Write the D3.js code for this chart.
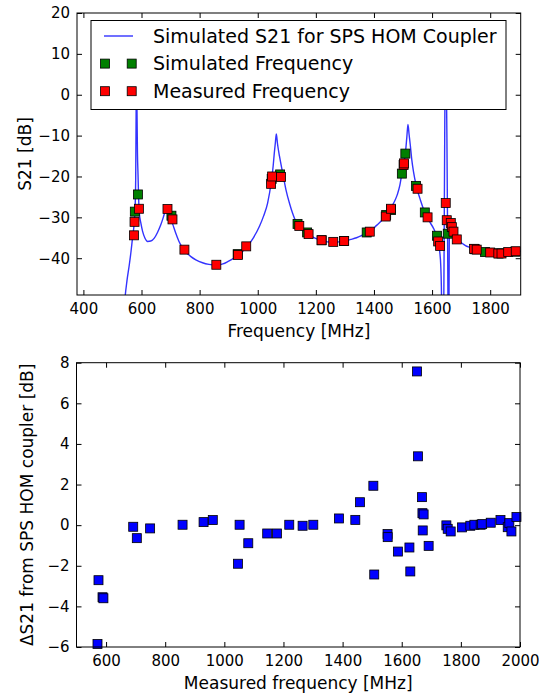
<!DOCTYPE html>
<html>
<head>
<meta charset="utf-8">
<script src="https://cdn.jsdelivr.net/npm/d3@7"></script>
<style>
  body { margin: 0; background: #fff; }
  text { font-family: "DejaVu Sans", sans-serif; fill: #000; }
</style>
</head>
<body>
<div id="chart"></div>
<script>
// simulated S21 curve
var curveFreq = [540, 544, 550, 558, 564, 569, 573, 576, 578.5, 580, 581.5, 583, 584.5, 586, 588, 590, 592, 598, 604, 612,
    621, 632, 644, 655, 666, 675, 681, 686, 690, 695, 707, 718, 729, 740, 752, 770, 787, 810, 832, 858,
    880, 900, 920, 937, 950, 966, 985, 1006, 1020, 1034, 1046, 1053, 1057, 1061, 1064, 1068, 1075, 1086, 1097, 1109,
    1120, 1134, 1143, 1158, 1175, 1197, 1220, 1240, 1260, 1280, 1297, 1320, 1340, 1362, 1385, 1410, 1425, 1442, 1459, 1470,
    1480, 1489, 1496, 1502, 1508, 1513, 1517, 1521, 1525, 1530, 1536, 1546, 1560, 1575, 1590, 1605, 1615, 1621, 1626, 1630,
    1632, 1634, 1637, 1640, 1642, 1643.5, 1645, 1647, 1649, 1651, 1653, 1655, 1656.5, 1658, 1659, 1660, 1664, 1670, 1680, 1690,
    1700, 1715, 1730, 1745, 1762, 1780, 1810, 1835, 1860, 1880, 1905];
var curveS21 = [-53, -49.2, -45.5, -41.6, -38.3, -35.1, -32.8, -30.2, -26.5, -20.5, -4, 12, -4, -14, -19.5, -25, -28.6, -31.5, -33.5, -35.1,
    -35.9, -35.8, -35.1, -33.7, -31.9, -30.0, -28.6, -27.6, -28.2, -29.4, -31.6, -33.9, -35.9, -37.3, -38.4, -39.6, -40.4, -41.1, -41.5, -41.7,
    -41.4, -40.7, -39.9, -39.1, -38.2, -36.9, -35.0, -32.2, -29.7, -26.5, -21.6, -17.5, -14.3, -11.5, -9.6, -12.0, -15.1, -19.2, -23.2, -26.5,
    -29.0, -31.4, -32.3, -33.4, -34.2, -35.1, -35.7, -36.0, -36.1, -36.0, -35.8, -35.4, -35.0, -34.3, -33.5, -31.9, -30.9, -29.4, -27.6, -26.2,
    -24.5, -22.2, -19.3, -17.0, -14.4, -10.5, -7.3, -9.8, -12.3, -15.8, -18.8, -22.4, -25.8, -28.8, -30.9, -32.7, -34.4, -35.9, -38.2, -42,
    -47, -58, -70, -55, -30, -10, 5, 10, 5, -10, -30, -55, -70, -55, -38, -30.8, -31.8, -33.4, -35, -35.7,
    -36.2, -36.9, -37.4, -37.9, -38.2, -38.5, -38.8, -38.9, -38.8, -38.5, -38.3];

// simulated mode frequencies (green)
var simFreq = [577, 587.6, 703, 931, 1048, 1077, 1137, 1170, 1220, 1297, 1375, 1442, 1459, 1496, 1508, 1545, 1575, 1617, 1654, 1748, 1782, 1830, 1886];
var simS21 = [-28.6, -24.4, -29.6, -39.0, -20.6, -19.5, -31.6, -33.7, -35.6, -35.8, -33.7, -29.4, -28.2, -19.3, -14.4, -22.3, -28.8, -34.5, -34.0, -37.8, -38.5, -38.8, -38.4];

// measured frequencies (red)
var measFreq = [574, 576, 591, 689.4, 706.6, 747.7, 857.5, 931.6, 960.4, 1046, 1049.5, 1080.4, 1143, 1175, 1219.7, 1259.8, 1297.5,
    1385.6, 1440.5, 1458.7, 1502, 1503, 1550, 1584.5, 1621, 1627.7, 1647, 1650.5, 1664.4, 1668, 1673.7, 1685,
    1744.4, 1753.6, 1800, 1828, 1839, 1862, 1888];
var measS21 = [-34.4, -31.1, -27.9, -27.95, -30.5, -37.9, -41.6, -39.2, -37.1, -21.8, -20.0, -20.15, -32.1, -34.1, -35.6, -36.0, -35.8,
    -33.5, -29.8, -27.9, -17.2, -16.8, -23.0, -30.0, -35.9, -37.0, -26.5, -30.7, -31.4, -32.4, -33.5, -35.4,
    -37.7, -37.9, -38.6, -38.85, -38.85, -38.5, -38.3];

// difference measured vs simulated (blue)
var deltaFreq = [571, 574.4, 588, 591, 691.8, 704, 749, 858.7, 929.8, 961, 1046, 1051.6, 1081, 1145, 1178, 1219.6, 1264.7, 1300.9,
    1387.6, 1443, 1458.8, 1504, 1507, 1552, 1552.5, 1587, 1626, 1629, 1651.6, 1655, 1668.5, 1670, 1674, 1671, 1691,
    1751, 1755.5, 1765.6, 1804, 1832, 1845.7, 1867, 1872, 1901, 1934, 1958.5, 1964, 1971, 1988];
var deltaS21 = [-5.85, -2.71, -3.55, -3.6, -0.08, -0.64, -0.16, 0.02, 0.15, 0.25, -1.9, 0.02, -0.89, -0.41, -0.41, 0.02, -0.03, 0.02,
    0.33, 0.26, 1.13, 1.94, -2.43, -0.44, -0.59, -1.3, -1.1, -2.28, 7.57, 3.39, 1.38, 0.59, 0.53, -0.26, -1.02,
    -0.01, -0.18, -0.31, -0.11, -0.03, 0.02, 0.02, 0.05, 0.12, 0.25, -0.1, 0.10, -0.31, 0.4];

var xTicksTop = [400, 600, 800, 1000, 1200, 1400, 1600, 1800];
var yTicksTop = [20, 10, 0, -10, -20, -30, -40];
var xTicksBot = [600, 800, 1000, 1200, 1400, 1600, 1800, 2000];
var yTicksBot = [8, 6, 4, 2, 0, -2, -4, -6];

var svg = d3.select("#chart").append("svg")
    .attr("width", 539)
    .attr("height", 695);

var tickFont = 15,
    labelFont = 17,
    legendFont = 19;

// draw ticks on all four sides, pointing inwards (matplotlib classic look)
function drawFrame(g, x, y, xTicks, yTicks) {
    var w = x.range()[1] - x.range()[0],
        h = y.range()[0] - y.range()[1];
    var fmt = d3.format("d");

    var bottom = g.append("g").attr("transform", "translate(0," + h + ")")
        .call(d3.axisBottom(x).tickValues(xTicks).tickSize(-5).tickSizeOuter(0).tickPadding(8).tickFormat(fmt));
    var upper = g.append("g")
        .call(d3.axisTop(x).tickValues(xTicks).tickSize(-5).tickSizeOuter(0).tickFormat(""));
    var left = g.append("g")
        .call(d3.axisLeft(y).tickValues(yTicks).tickSize(-5).tickSizeOuter(0).tickPadding(7).tickFormat(fmt));
    var right = g.append("g").attr("transform", "translate(" + w + ",0)")
        .call(d3.axisRight(y).tickValues(yTicks).tickSize(-5).tickSizeOuter(0).tickFormat(""));

    [bottom, upper, left, right].forEach(function(a) {
        a.select(".domain").remove();
        a.selectAll("line").attr("stroke", "#000");
        a.selectAll("text").style("font-size", tickFont + "px").attr("fill", "#000")
            .style("font-family", "'DejaVu Sans', sans-serif");
    });

    g.append("rect")
        .attr("width", w)
        .attr("height", h)
        .attr("fill", "none")
        .attr("stroke", "#000")
        .attr("stroke-width", 1);
}

function squares(g, xs, ys, x, y, color) {
    g.selectAll(null)
        .data(xs.map(function(f, i) { return [f, ys[i]]; }))
        .enter().append("rect")
        .attr("x", function(d) { return x(d[0]) - 4.5; })
        .attr("y", function(d) { return y(d[1]) - 4.5; })
        .attr("width", 9)
        .attr("height", 9)
        .attr("fill", color)
        .attr("stroke", "#000")
        .attr("stroke-width", 0.8);
}

// ---------- top chart ----------
var box1 = {left: 77, right: 520.7, top: 13, bottom: 295};
var x1 = d3.scaleLinear().domain([378, 1905]).range([0, box1.right - box1.left]);
var y1 = d3.scaleLinear().domain([-49, 20]).range([box1.bottom - box1.top, 0]);

var g1 = svg.append("g").attr("transform", "translate(" + box1.left + "," + box1.top + ")");

svg.append("clipPath").attr("id", "clipTop")
    .append("rect")
    .attr("width", box1.right - box1.left)
    .attr("height", box1.bottom - box1.top);

var plot1 = g1.append("g").attr("clip-path", "url(#clipTop)");

var line = d3.line()
    .curve(d3.curveMonotoneX)
    .x(function(d) { return x1(d[0]); })
    .y(function(d) { return y1(d[1]); });

plot1.append("path")
    .datum(curveFreq.map(function(f, i) { return [f, curveS21[i]]; }))
    .attr("d", line)
    .attr("fill", "none")
    .attr("stroke", "#3333ff")
    .attr("stroke-width", 1.4);

squares(plot1, simFreq, simS21, x1, y1, "#008000");
squares(plot1, measFreq, measS21, x1, y1, "#ff0000");

drawFrame(g1, x1, y1, xTicksTop, yTicksTop);

// legend
var leg = svg.append("g").attr("transform", "translate(91,20.5)");
leg.append("rect")
    .attr("width", 415)
    .attr("height", 89)
    .attr("fill", "#fff")
    .attr("stroke", "#000")
    .attr("stroke-width", 1);

var legItems = ["Simulated S21 for SPS HOM Coupler", "Simulated Frequency", "Measured Frequency"];
var legColors = ["#3333ff", "#008000", "#ff0000"];
legItems.forEach(function(name, i) {
    var cy = 15.5 + i * 27.6;
    if (i === 0) {
        leg.append("line")
            .attr("x1", 13).attr("x2", 42)
            .attr("y1", cy).attr("y2", cy)
            .attr("stroke", legColors[i])
            .attr("stroke-width", 1.4);
    } else {
        [14, 40.7].forEach(function(mx) {
            leg.append("rect")
                .attr("x", mx - 4.5).attr("y", cy - 4.5)
                .attr("width", 9).attr("height", 9)
                .attr("fill", legColors[i])
                .attr("stroke", "#000")
                .attr("stroke-width", 0.8);
        });
    }
    leg.append("text")
        .attr("x", 62)
        .attr("y", cy)
        .attr("dy", "0.35em")
        .style("font-size", legendFont + "px")
        .text(name);
});

svg.append("text")
    .attr("x", (box1.left + box1.right) / 2)
    .attr("y", 337)
    .attr("text-anchor", "middle")
    .style("font-size", labelFont + "px")
    .text("Frequency [MHz]");

svg.append("text")
    .attr("transform", "translate(31," + (box1.top + box1.bottom) / 2 + ") rotate(-90)")
    .attr("text-anchor", "middle")
    .style("font-size", labelFont + "px")
    .text("S21 [dB]");

// ---------- bottom chart ----------
var box2 = {left: 76.5, right: 520, top: 362.7, bottom: 647};
var x2 = d3.scaleLinear().domain([500, 2000]).range([0, box2.right - box2.left]);
var y2 = d3.scaleLinear().domain([-6, 8]).range([box2.bottom - box2.top, 0]);

var g2 = svg.append("g").attr("transform", "translate(" + box2.left + "," + box2.top + ")");

squares(g2, deltaFreq, deltaS21, x2, y2, "#0000ff");

drawFrame(g2, x2, y2, xTicksBot, yTicksBot);

svg.append("text")
    .attr("x", (box2.left + box2.right) / 2)
    .attr("y", 689)
    .attr("text-anchor", "middle")
    .style("font-size", labelFont + "px")
    .text("Measured frequency [MHz]");

svg.append("text")
    .attr("transform", "translate(33," + (box2.top + box2.bottom) / 2 + ") rotate(-90)")
    .attr("text-anchor", "middle")
    .style("font-size", labelFont + "px")
    .text("ΔS21 from SPS HOM coupler [dB]");
</script>
</body>
</html>
